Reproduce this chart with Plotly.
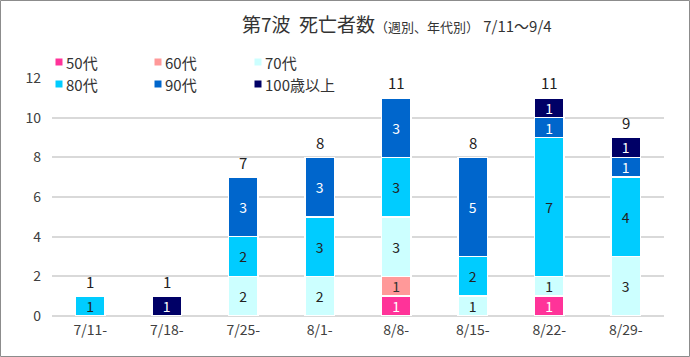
import plotly.graph_objects as go

categories = ["7/11-", "7/18-", "7/25-", "8/1-", "8/8-", "8/15-", "8/22-", "8/29-"]
age_50 = [0, 0, 0, 0, 1, 0, 1, 0]
age_60 = [0, 0, 0, 0, 1, 0, 0, 0]
age_70 = [0, 0, 2, 2, 3, 1, 1, 3]
age_80 = [1, 0, 2, 3, 3, 2, 7, 4]
age_90 = [0, 0, 3, 3, 3, 5, 1, 1]
age_100 = [0, 1, 0, 0, 0, 0, 1, 1]
y_ticks = [0, 2, 4, 6, 8, 10, 12]

series = [
    ("50代", age_50, "#FF3399", "white"),
    ("60代", age_60, "#FF9999", "#333333"),
    ("70代", age_70, "#CCFFFF", "#222222"),
    ("80代", age_80, "#00CCFF", "#222222"),
    ("90代", age_90, "#0066CC", "white"),
    ("100歳以上", age_100, "#000066", "white"),
]

FONT = "Noto Sans CJK JP, Noto Sans, sans-serif"
W, H = 690, 357
L, R, T, B = 52, 664, 77, 316

def px_x(p):
    return (p - L) / (R - L)

def px_y(p):
    return (B - p) / (B - T)

fig = go.Figure()
for name, vals, color, tcolor in series:
    fig.add_trace(go.Bar(
        name=name, x=categories, y=[v if v else None for v in vals],
        marker=dict(color=color, line=dict(color="white", width=1.5)),
        text=[str(v) if v else "" for v in vals],
        textposition="inside", insidetextanchor="middle", textangle=0,
        constraintext="none",
        textfont=dict(family=FONT, size=14, color=tcolor),
        showlegend=False, hoverinfo="name+y",
    ))

totals = [sum(s[1][i] for s in series) for i in range(len(categories))]
for c, t in zip(categories, totals):
    fig.add_annotation(x=c, y=t, text=str(t), showarrow=False, yshift=15,
                       yanchor="middle", font=dict(family=FONT, size=15, color="#222222"))

# legend (2 rows x 3 columns), drawn as small squares + text
leg_cols = [59, 158, 258]
leg_rows = [62, 84]
for i, (name, vals, color, tcolor) in enumerate(series):
    cx = leg_cols[i % 3]
    cy = leg_rows[i // 3]
    fig.add_shape(type="rect", xref="paper", yref="paper",
                  x0=px_x(cx - 3.5), x1=px_x(cx + 3.5), y0=px_y(cy + 3.5), y1=px_y(cy - 3.5),
                  fillcolor=color, line=dict(width=0))
    fig.add_annotation(xref="paper", yref="paper", x=px_x(cx + 5), y=px_y(cy),
                       xanchor="left", yanchor="middle", showarrow=False, text=name,
                       font=dict(family=FONT, size=15, color="#333333"))

fig.add_shape(type="rect", xref="paper", yref="paper",
              x0=px_x(0.5), x1=px_x(W - 0.5), y0=px_y(H - 0.5), y1=px_y(0.5),
              line=dict(color="#8c8c8c", width=1), layer="below")

fig.update_layout(
    width=W, height=H, margin=dict(l=L, r=W - R, t=T, b=H - B),
    paper_bgcolor="white", plot_bgcolor="white",
    barmode="stack", bargap=0.62,
    showlegend=False,
    title=dict(
        text="第7波  死亡者数<span style='font-size:13px'>（週別、年代別）</span> <span style='font-size:15px'>7/11～9/4</span>",
        x=0.575, xref="container", xanchor="center", y=1 - 25 / H, yanchor="middle",
        font=dict(family=FONT, size=19, color="#333333"),
    ),
    xaxis=dict(tickfont=dict(family=FONT, size=14, color="#404040"), showgrid=False,
               showline=False, ticks="", ticklabelstandoff=4),
    yaxis=dict(range=[0, 12.05], tickvals=y_ticks, showgrid=True, gridcolor="#d9d9d9",
               gridwidth=1.5, zeroline=True, zerolinecolor="#d9d9d9", zerolinewidth=1.5,
               tickfont=dict(family=FONT, size=14, color="#404040"), ticklabelstandoff=10),
)

fig.write_html("out.html", config={"displayModeBar": False},
               post_script="document.body.style.margin='0';")
